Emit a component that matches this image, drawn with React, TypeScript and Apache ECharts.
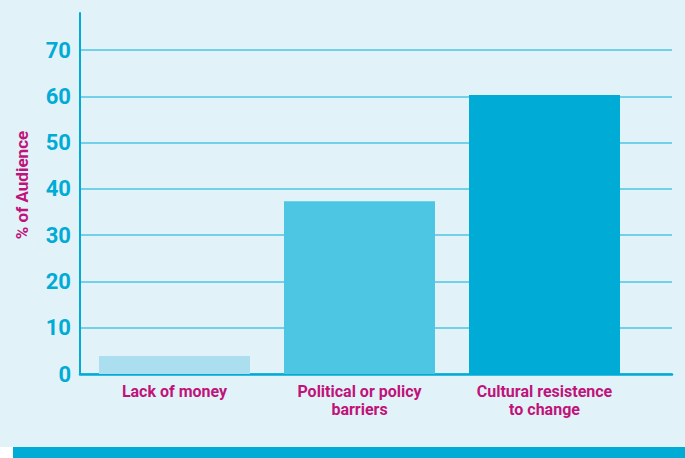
import React, { useEffect, useRef } from "react";
import * as echarts from "echarts";

const categories = ["Lack of money", "Political or policy\nbarriers", "Cultural resistence\nto change"];
const audienceShare = [3.9, 37.3, 60.3];
const barColors = ["#abdeef", "#4cc6e3", "#00abd6"];
const yTitle = "% of Audience";

const CYAN = "#00abd6";
const MAGENTA = "#c0137a";
const BG = "#e2f2f9";
const FONT = "Roboto, 'Noto Sans', sans-serif";

export default function App() {
  const ref = useRef<HTMLDivElement>(null);
  useEffect(() => {
    if (!ref.current) return;
    const chart = echarts.init(ref.current, undefined, { renderer: "svg" });
    chart.setOption({
      animation: false,
      backgroundColor: BG,
      grid: [
        { left: 80, right: 13, top: 13, bottom: 84 },
        { left: 82, width: 555, top: 13, bottom: 84 },
      ],
      xAxis: [
        {
          gridIndex: 0,
          type: "value",
          min: 0,
          max: 1,
          axisLabel: { show: false },
          axisTick: { show: false },
          splitLine: { show: false },
          axisLine: { show: true, lineStyle: { color: CYAN, width: 2.5 } },
          z: 0,
        },
        {
          gridIndex: 1,
          type: "category",
          data: categories,
          axisLine: { show: false },
          axisTick: { show: false },
          axisLabel: {
            color: MAGENTA,
            fontFamily: FONT,
            fontWeight: "bold",
            fontSize: 16,
            lineHeight: 18,
            margin: 8,
            interval: 0,
          },
        },
      ],
      yAxis: [
        {
          gridIndex: 0,
          type: "value",
          min: 0,
          max: 78,
          interval: 10,
          axisLine: { show: true, lineStyle: { color: CYAN, width: 2 } },
          axisTick: { show: false },
          axisLabel: {
            color: CYAN,
            fontFamily: FONT,
            fontWeight: "bold",
            fontSize: 22,
            margin: 9,
            showMaxLabel: false,
            formatter: (v: number) => (v % 10 === 0 ? String(v) : ""),
          },
          splitLine: {
            show: true,
            showMaxLine: false,
            lineStyle: { color: "#4cc6e3", width: 1.5 },
          },
          z: 0,
        },
        {
          gridIndex: 1,
          type: "value",
          min: 0,
          max: 78,
          show: false,
          splitLine: { show: false },
        },
      ],
      graphic: [
        {
          type: "text",
          x: 22,
          y: 185,
          rotation: Math.PI / 2,
          style: {
            text: yTitle,
            fill: MAGENTA,
            font: `bold 17px ${FONT}`,
            align: "center",
            verticalAlign: "middle",
          },
        },
        {
          type: "rect",
          shape: { x: 13, y: 447, width: 672, height: 11 },
          style: { fill: CYAN },
        },
        {
          type: "rect",
          shape: { x: 0, y: 447, width: 13, height: 11 },
          style: { fill: "#ffffff" },
        },
      ],
      series: [
        {
          type: "bar",
          xAxisIndex: 1,
          yAxisIndex: 1,
          barWidth: 151,
          data: audienceShare.map((v, i) => ({ value: v, itemStyle: { color: barColors[i] } })),
          z: 3,
        },
      ],
    });
    return () => chart.dispose();
  }, []);
  return (
    <div
      ref={ref}
      style={{ position: "fixed", left: 0, top: 0, width: 685, height: 458 }}
    />
  );
}
